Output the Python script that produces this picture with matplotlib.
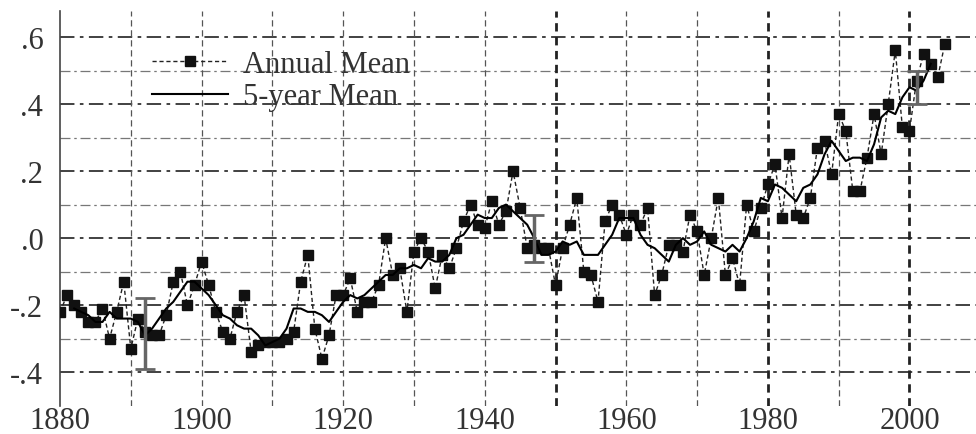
import matplotlib
matplotlib.use("Agg")
import matplotlib.pyplot as plt
import numpy as np

years = np.arange(1880, 2006)
annual = [-0.22, -0.17, -0.20, -0.22, -0.25, -0.25, -0.21, -0.30, -0.22, -0.13,
          -0.33, -0.24, -0.28, -0.29, -0.29, -0.23, -0.13, -0.10, -0.20, -0.14,
          -0.07, -0.14, -0.22, -0.28, -0.30, -0.22, -0.17, -0.34, -0.32, -0.31,
          -0.31, -0.31, -0.30, -0.28, -0.13, -0.05, -0.27, -0.36, -0.29, -0.17,
          -0.17, -0.12, -0.22, -0.19, -0.19, -0.14, 0.00, -0.11, -0.09, -0.22,
          -0.04, 0.00, -0.04, -0.15, -0.05, -0.09, -0.03, 0.05, 0.10, 0.04,
          0.03, 0.11, 0.04, 0.08, 0.20, 0.09, -0.03, -0.02, -0.03, -0.03,
          -0.14, -0.03, 0.04, 0.12, -0.10, -0.11, -0.19, 0.05, 0.10, 0.07,
          0.01, 0.07, 0.04, 0.09, -0.17, -0.11, -0.02, -0.02, -0.04, 0.07,
          0.02, -0.11, 0.00, 0.12, -0.11, -0.06, -0.14, 0.10, 0.02, 0.09,
          0.16, 0.22, 0.06, 0.25, 0.07, 0.06, 0.12, 0.27, 0.29, 0.19,
          0.37, 0.32, 0.14, 0.14, 0.24, 0.37, 0.25, 0.40, 0.56, 0.33,
          0.32, 0.47, 0.55, 0.52, 0.48, 0.58]

years5 = np.arange(1882, 2004)
mean5 = [-0.21, -0.22, -0.23, -0.25, -0.25, -0.22, -0.24, -0.24,
         -0.24, -0.25, -0.29, -0.27, -0.24, -0.21, -0.19, -0.16, -0.13, -0.13,
         -0.15, -0.17, -0.20, -0.23, -0.24, -0.26, -0.27, -0.27, -0.29, -0.32,
         -0.31, -0.30, -0.27, -0.21, -0.21, -0.22, -0.22, -0.23, -0.25, -0.22,
         -0.19, -0.17, -0.18, -0.17, -0.15, -0.13, -0.11, -0.11, -0.09, -0.09,
         -0.08, -0.09, -0.06, -0.07, -0.07, -0.05, 0.00, 0.01, 0.04, 0.07,
         0.06, 0.06, 0.09, 0.10, 0.08, 0.06, 0.04, 0.00, -0.05, -0.05,
         -0.04, -0.01, -0.02, -0.01, -0.05, -0.05, -0.05, -0.02, 0.01, 0.06,
         0.06, 0.06, 0.01, -0.02, -0.03, -0.05, -0.07, -0.02, 0.00, -0.02,
         -0.01, 0.02, -0.02, -0.03, -0.04, -0.02, -0.04, 0.00, 0.05, 0.12,
         0.11, 0.16, 0.15, 0.13, 0.11, 0.15, 0.16, 0.19, 0.25, 0.29,
         0.26, 0.23, 0.24, 0.24, 0.23, 0.28, 0.36, 0.38, 0.37, 0.42,
         0.45, 0.44, 0.47, 0.52]

err_years = [1892, 1947, 2001]
err_mid = [-0.285, 0.0, 0.45]
err_half = [0.105, 0.07, 0.05]

yticks = [-0.4, -0.2, 0.0, 0.2, 0.4, 0.6]
ytick_labels = ["-.4", "-.2", ".0", ".2", ".4", ".6"]
xticks = [1880, 1900, 1920, 1940, 1960, 1980, 2000]

plt.rcParams["font.family"] = ["Liberation Serif", "DejaVu Serif"]

fig = plt.figure(figsize=(9.76, 4.35), dpi=100)
ax = fig.add_axes([0.0615, 0.065, 0.9385, 0.907])

# grid
for v in np.arange(-0.4, 0.61, 0.1):
    major = abs(round(v * 10)) % 2 == 0
    ax.axhline(v, color="#333333" if major else "#777777", lw=1.3 if major else 0.9,
               ls=(0, (8, 3, 2, 3)), zorder=1)
for yr in range(1890, 2010, 10):
    heavy = yr in (1950, 1980, 2000)
    ax.axvline(yr, color="#222222" if heavy else "#555555", lw=2.0 if heavy else 0.9,
               ls=(0, (3, 2)) if heavy else (0, (5, 3)), zorder=1)

ax.plot(years, annual, ls=(0, (3, 2)), color="#222222", lw=1.0, marker="s",
        markersize=6.5, markerfacecolor="#111111", markeredgecolor="#111111",
        label="Annual Mean", zorder=3)
ax.plot(years5, mean5, color="black", lw=1.5, label="5-year Mean", zorder=4)
ax.errorbar(err_years, err_mid, yerr=err_half, fmt="none", ecolor="#666666",
            elinewidth=2.5, capsize=7, capthick=2, zorder=5)

ax.set_xlim(1880, 2009.4)
ax.set_ylim(-0.5, 0.677)
ax.set_yticks(yticks)
ax.set_yticklabels(ytick_labels)
ax.set_xticks(xticks)
ax.tick_params(axis="both", length=0, labelsize=22, colors="#333333")
ax.tick_params(axis="y", pad=12)
ax.tick_params(axis="x", pad=0)
for s in ("top", "right", "bottom"):
    ax.spines[s].set_visible(False)
ax.spines["left"].set_color("#444444")
ax.spines["left"].set_linewidth(1.2)

ax.legend(loc="upper left", bbox_to_anchor=(0.07, 0.972), frameon=False,
          fontsize=22, handlelength=2.5, handletextpad=0.5, labelspacing=0.12,
          labelcolor="#333333")

fig.savefig("out.png", dpi=100)
